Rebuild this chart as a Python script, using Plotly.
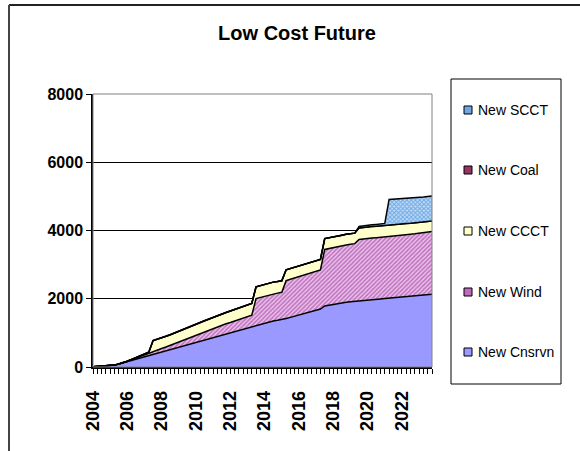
import plotly.graph_objects as go

# Quarterly positions 2004 Q1 .. 2023 Q4
quarter_pos = [y + q / 4 for y in range(2004, 2024) for q in range(4)]
year_ticks = [2004, 2006, 2008, 2010, 2012, 2014, 2016, 2018, 2020, 2022]
year_labels = ["2004", "2006", "2008", "2010", "2012", "2014", "2016", "2018", "2020", "2022"]
y_ticks = [0, 2000, 4000, 6000, 8000]

new_cnsrvn = [
    10, 15, 20, 25, 30, 55, 90, 125, 160, 195,
    230, 265, 300, 335, 370, 405, 440, 475, 510, 545,
    580, 615, 650, 685, 720, 755, 790, 825, 860, 895,
    930, 965, 1000, 1035, 1070, 1105, 1140, 1180, 1220, 1255,
    1290, 1325, 1350, 1370, 1390, 1420, 1455, 1490, 1525, 1560,
    1595, 1630, 1665, 1700, 1790, 1815, 1835, 1855, 1875, 1895,
    1910, 1925, 1940, 1955, 1965, 1975, 1985, 1995, 2005, 2015,
    2025, 2035, 2045, 2055, 2065, 2075, 2085, 2100, 2115, 2130,
]
new_wind = [
    0, 0, 0, 0, 0, 0, 0, 0, 0, 15,
    30, 45, 55, 65, 75, 85, 100, 110, 125, 140,
    155, 170, 185, 200, 215, 230, 245, 260, 270, 280,
    290, 300, 305, 310, 315, 320, 330, 340, 785, 785,
    790, 790, 795, 795, 800, 1110, 1115, 1120, 1125, 1125,
    1130, 1135, 1140, 1145, 1655, 1660, 1665, 1670, 1675, 1680,
    1685, 1690, 1795, 1800, 1800, 1805, 1805, 1810, 1810, 1815,
    1815, 1820, 1820, 1825, 1825, 1828, 1830, 1832, 1835, 1838,
]
new_ccct = [
    0, 0, 0, 0, 0, 0, 0, 0, 10, 15,
    20, 25, 30, 35, 330, 322, 318, 315, 312, 310,
    310, 312, 314, 316, 318, 320, 322, 324, 326, 328,
    330, 332, 334, 336, 338, 340, 340, 342, 345, 345,
    345, 345, 342, 340, 338, 320, 315, 310, 308, 305,
    305, 305, 305, 305, 320, 320, 318, 316, 314, 312,
    310, 308, 340, 338, 336, 335, 334, 333, 332, 331,
    330, 328, 326, 324, 322, 320, 318, 316, 314, 312,
]
new_coal = [
    0, 0, 0, 0, 0, 0, 0, 0, 0, 0, 0, 0, 0, 0, 0, 0, 0, 0, 0, 0,
    0, 0, 0, 0, 0, 0, 0, 0, 0, 0, 0, 0, 0, 0, 0, 0, 0, 0, 0, 0,
    0, 0, 0, 0, 0, 0, 0, 0, 0, 0, 0, 0, 0, 0, 0, 0, 0, 0, 0, 0,
    0, 0, 0, 0, 0, 0, 0, 0, 0, 0, 0, 0, 0, 0, 0, 0, 0, 0, 0, 0,
]
new_scct = [
    0, 0, 0, 0, 0, 0, 0, 0, 0, 0,
    0, 0, 0, 0, 0, 0, 0, 0, 0, 0,
    0, 0, 0, 0, 0, 0, 0, 0, 0, 0,
    0, 0, 0, 0, 0, 0, 0, 0, 0, 0,
    0, 0, 0, 0, 0, 0, 0, 0, 0, 0,
    0, 0, 0, 0, 0, 0, 0, 0, 0, 0,
    0, 0, 45, 48, 50, 52, 55, 58, 60, 750,
    748, 746, 744, 742, 740, 740, 738, 736, 735, 734,
]

FONT = "Liberation Sans, Arial, sans-serif"

series = [
    ("New Cnsrvn", new_cnsrvn, dict(fillcolor="#9999FF"), "#9999FF"),
    ("New Wind", new_wind,
     dict(fillpattern=dict(shape="/", fgcolor="#8E248E", bgcolor="#F2CCF2",
                           size=3, solidity=0.6)), "#BF6CBF"),
    ("New CCCT", new_ccct, dict(fillcolor="#FFFFCC"), "#FFFFCC"),
    ("New Coal", new_coal, dict(fillcolor="#993366"), "#993366"),
    ("New SCCT", new_scct,
     dict(fillpattern=dict(shape="x", fgcolor="#1F6FD0", bgcolor="#BFDDF8",
                           size=3, solidity=0.55)), "#6FA6E6"),
]

fig = go.Figure()
for name, vals, fill_kw, _ in series:
    fig.add_trace(go.Scatter(
        x=quarter_pos, y=vals, name=name, mode="lines",
        stackgroup="gen", line=dict(color="black", width=1.5),
        showlegend=False, **fill_kw,
    ))

# pixel geometry of the plotting area
L, R, T, B = 93, 148, 94, 84
W, H = 580, 451
PW, PH = W - L - R, H - T - B


def px_x(px):
    return (px - L) / PW


def px_y(py):
    return (H - B - py) / PH


shapes = []
# outer frame (top and left edge)
shapes.append(dict(type="line", xref="paper", yref="paper",
                   x0=px_x(9), x1=px_x(581), y0=px_y(5), y1=px_y(5),
                   line=dict(color="#222222", width=2)))
shapes.append(dict(type="line", xref="paper", yref="paper",
                   x0=px_x(9), x1=px_x(9), y0=px_y(5), y1=px_y(452),
                   line=dict(color="#444444", width=2)))
# plot area border
shapes.append(dict(type="rect", xref="paper", yref="paper", x0=0, x1=1, y0=0, y1=1,
                   line=dict(color="#808080", width=1), layer="above"))

# legend box
shapes.append(dict(type="rect", xref="paper", yref="paper",
                   x0=px_x(451), x1=px_x(561), y0=px_y(79), y1=px_y(384),
                   line=dict(color="black", width=1), fillcolor="white"))
annotations = []
legend_rows = [("New SCCT", 110), ("New Coal", 170), ("New CCCT", 231),
               ("New Wind", 292), ("New Cnsrvn", 352)]
swatch = {name: col for name, _, _, col in series}
for name, py in legend_rows:
    shapes.append(dict(type="rect", xref="paper", yref="paper",
                       x0=px_x(464), x1=px_x(472), y0=px_y(py - 4), y1=px_y(py + 4),
                       line=dict(color="black", width=1), fillcolor=swatch[name]))
    annotations.append(dict(xref="paper", yref="paper", x=px_x(476), y=px_y(py),
                            xanchor="left", yanchor="middle", showarrow=False,
                            text=name, font=dict(family=FONT, size=14, color="black")))

fig.update_layout(
    width=W, height=H,
    margin=dict(l=L, r=R, t=T, b=B),
    paper_bgcolor="white", plot_bgcolor="white",
    title=dict(text="Low Cost Future", x=297 / W, xref="container", xanchor="center",
               y=1 - 33 / H, yref="container", yanchor="middle",
               font=dict(family=FONT, size=20, color="black", weight="bold")),
    shapes=shapes, annotations=annotations,
    showlegend=False,
    xaxis=dict(range=[2004, 2023.75], tickvals=year_ticks, ticktext=year_labels,
               tickangle=-90, ticks="outside", ticklen=5, tickcolor="black",
               ticklabelstandoff=10,
               showline=True, linecolor="black", linewidth=1.5,
               showgrid=False, zeroline=False,
               tickfont=dict(family=FONT, size=18, color="black", weight="bold"),
               minor=dict(dtick=0.25, tick0=2004, ticks="outside", ticklen=5,
                          tickcolor="black", showgrid=False)),
    yaxis=dict(range=[0, 8000], tickvals=y_ticks, ticks="outside", ticklen=5,
               tickcolor="black", showline=True, linecolor="black", linewidth=1.5,
               showgrid=True, gridcolor="black", gridwidth=1, zeroline=False,
               tickfont=dict(family=FONT, size=16, color="black", weight="bold")),
)

fig.write_html("out.html")
